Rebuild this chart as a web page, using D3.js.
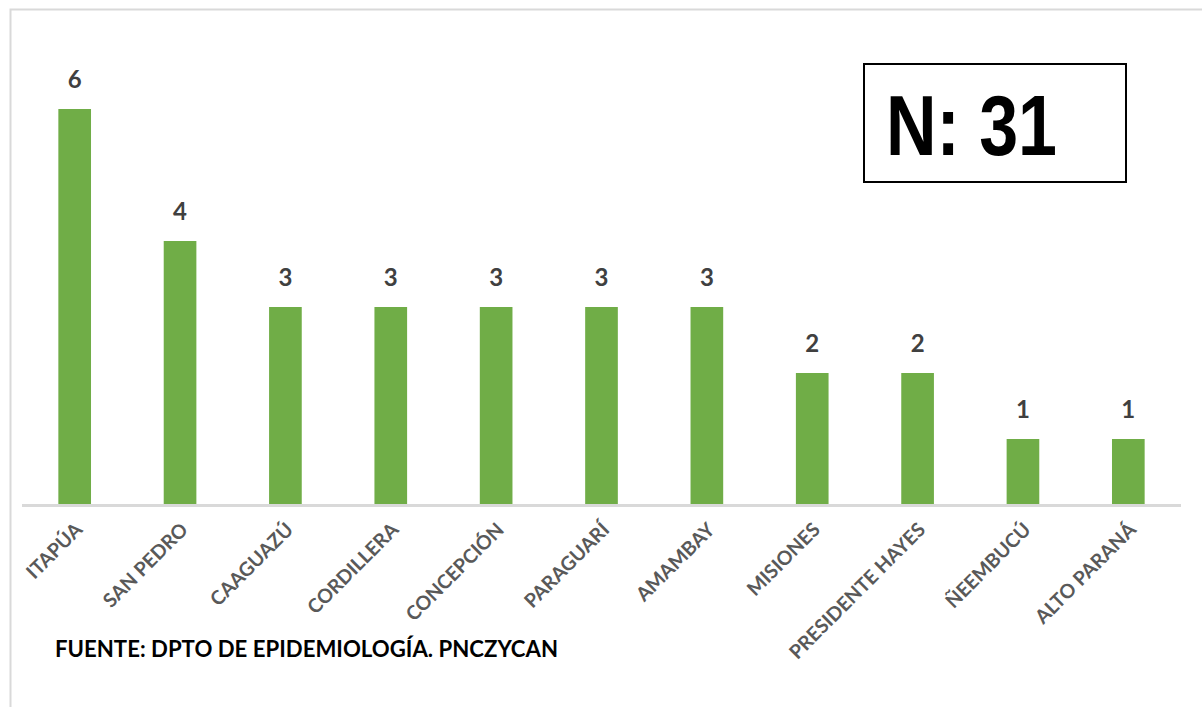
<!DOCTYPE html>
<html>
<head>
<meta charset="utf-8">
<script src="https://cdn.jsdelivr.net/npm/d3@7"></script>
<style>
  body { margin: 0; background: #fff; }
  svg { display: block; }
</style>
</head>
<body>
<div id="chart"></div>
<script>
const departments = ['ITAPÚA', 'SAN PEDRO', 'CAAGUAZÚ', 'CORDILLERA', 'CONCEPCIÓN', 'PARAGUARÍ',
  'AMAMBAY', 'MISIONES', 'PRESIDENTE HAYES', 'ÑEEMBUCÚ', 'ALTO PARANÁ'];
const cases = [6, 4, 3, 3, 3, 3, 3, 2, 2, 1, 1];
const totalLabel = 'N: 31';
const sourceLabel = 'FUENTE: DPTO DE EPIDEMIOLOGÍA. PNCZYCAN';

const width = 1202;
const height = 707;

const svg = d3.select('#chart')
  .append('svg')
  .attr('width', width)
  .attr('height', height);

// outer frame (right and bottom edges fall outside the picture)
svg.append('rect')
  .attr('x', 10.5).attr('y', 9.5)
  .attr('width', 1300).attr('height', 800)
  .attr('fill', 'none')
  .attr('stroke', '#d9d9d9')
  .attr('stroke-width', 2);

const x = d3.scaleBand()
  .domain(departments)
  .range([22, 1181])
  .paddingInner(0.69)
  .paddingOuter(0.345);

const y = d3.scaleLinear()
  .domain([0, 6])
  .range([505, 109]);

const data = departments.map((d, i) => ({ name: d, value: cases[i] }));

svg.append('g')
  .selectAll('rect')
  .data(data)
  .join('rect')
  .attr('x', d => x(d.name))
  .attr('y', d => y(d.value))
  .attr('width', x.bandwidth())
  .attr('height', d => y(0) - y(d.value))
  .attr('fill', '#70ad47');

// value labels
svg.append('g')
  .selectAll('text')
  .data(data)
  .join('text')
  .attr('x', d => x(d.name) + x.bandwidth() / 2)
  .attr('y', d => y(d.value) - 21)
  .attr('text-anchor', 'middle')
  .attr('font-family', 'Lato, "Open Sans", sans-serif')
  .attr('font-weight', 'bold')
  .attr('font-size', 24)
  .attr('fill', '#404040')
  .text(d => d.value);

// x axis
const xAxis = svg.append('g')
  .attr('transform', `translate(0,${y(0)})`)
  .call(d3.axisBottom(x).tickSize(0).tickPadding(0));

xAxis.select('.domain')
  .attr('d', 'M22,0.5H1181')
  .attr('stroke', '#d9d9d9')
  .attr('stroke-width', 3);

xAxis.selectAll('.tick text')
  .attr('font-family', 'Lato, "Open Sans", sans-serif')
  .attr('font-weight', 'bold')
  .attr('font-size', 19.5)
  .attr('fill', '#595959')
  .attr('text-anchor', 'end')
  .attr('dy', null)
  .attr('transform', 'translate(9,26) rotate(-45)');

// N box
svg.append('rect')
  .attr('x', 864).attr('y', 64)
  .attr('width', 262).attr('height', 118)
  .attr('fill', '#fff')
  .attr('stroke', '#000')
  .attr('stroke-width', 2);

svg.append('text')
  .attr('x', 886).attr('y', 155)
  .attr('font-family', '"Liberation Sans Narrow", "Liberation Sans", Arial, sans-serif')
  .attr('font-weight', 'bold')
  .attr('font-size', 86)
  .attr('textLength', 171)
  .attr('lengthAdjust', 'spacingAndGlyphs')
  .attr('fill', '#000')
  .text(totalLabel);

// source note
svg.append('text')
  .attr('x', 55).attr('y', 657)
  .attr('font-family', 'Lato, "Open Sans", sans-serif')
  .attr('font-weight', 'bold')
  .attr('font-size', 22)
  .attr('textLength', 503)
  .attr('lengthAdjust', 'spacingAndGlyphs')
  .attr('fill', '#000')
  .text(sourceLabel);
</script>
</body>
</html>
